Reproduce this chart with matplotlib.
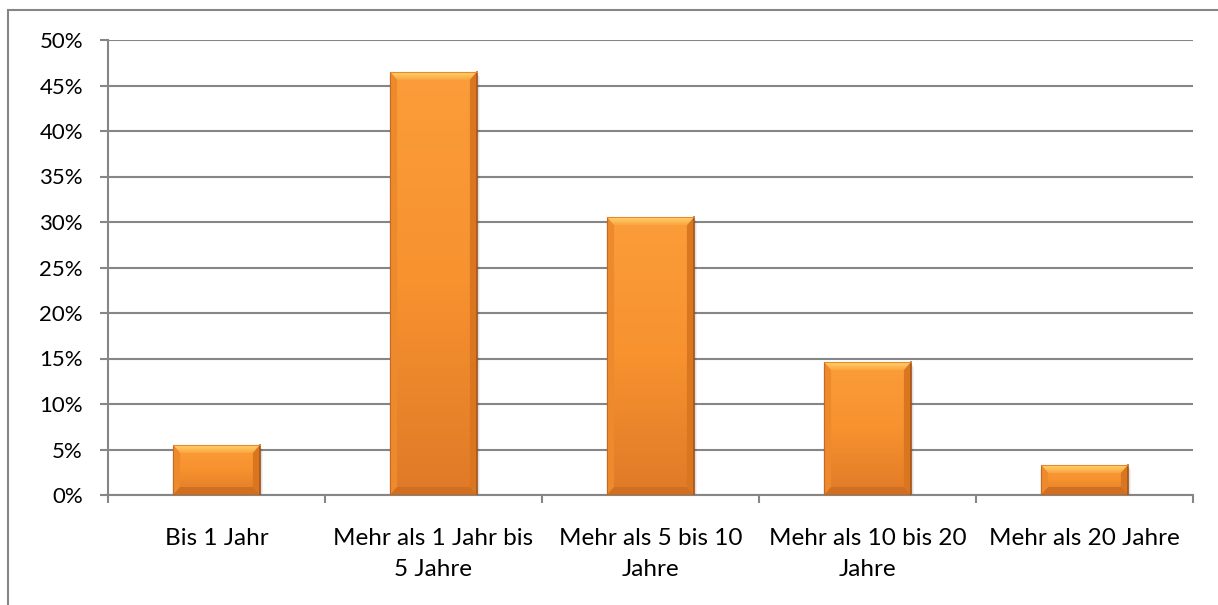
import matplotlib
matplotlib.use("Agg")
import matplotlib.pyplot as plt
import numpy as np
from matplotlib.ticker import PercentFormatter, FixedLocator
from matplotlib.patches import Polygon, Rectangle
from matplotlib.colors import LinearSegmentedColormap

categories = ["Bis 1 Jahr", "Mehr als 1 Jahr bis\n5 Jahre", "Mehr als 5 bis 10\nJahre",
              "Mehr als 10 bis 20\nJahre", "Mehr als 20 Jahre"]
values = [0.055, 0.465, 0.305, 0.146, 0.033]
yticks = [0, 0.05, 0.10, 0.15, 0.20, 0.25, 0.30, 0.35, 0.40, 0.45, 0.50]

plt.rcParams['font.family'] = ['Lato', 'DejaVu Sans']
W, H, DPI = 1218, 605, 100
fig = plt.figure(figsize=(W / DPI, H / DPI), dpi=DPI)
fig.patch.set_facecolor("white")

# outer chart border (left and top visible)
fig.add_artist(Rectangle((8 / W, -0.1), 1.2, (1 - 10 / H) + 0.1, transform=fig.transFigure,
                         fill=False, edgecolor="#868686", linewidth=1.5))

ax = fig.add_axes([108 / W, 1 - 495 / H, (1193 - 108) / W, (495 - 40) / H])
grid_col = "#868686"
x = np.arange(len(categories))
ax.set_xlim(-0.5, len(categories) - 0.5)
ax.set_ylim(0, 0.5)
ax.set_yticks(yticks)
ax.yaxis.set_major_formatter(PercentFormatter(1.0, decimals=0))
ax.yaxis.grid(True, color=grid_col, linewidth=1.5)
ax.set_axisbelow(True)
for s in ["top", "right"]:
    ax.spines[s].set_visible(False)
for s in ["left", "bottom"]:
    ax.spines[s].set_color(grid_col)
    ax.spines[s].set_linewidth(1.5)
ax.tick_params(axis="y", length=6, width=1.5, color=grid_col, pad=12, labelsize=16, labelcolor="black")
ax.xaxis.set_major_locator(FixedLocator(np.arange(-0.5, len(categories), 1.0)))
ax.xaxis.set_major_formatter(plt.NullFormatter())
ax.tick_params(axis="x", which="major", length=6, width=1.5, color=grid_col)
ax.set_xticks(x, minor=True)
ax.set_xticklabels(categories, minor=True, fontsize=17.5, linespacing=1.55)
ax.tick_params(axis="x", which="minor", length=0, pad=24, labelcolor="black")

bw_w = 0.4
bars = ax.bar(x, values, width=bw_w, color="#F79232", edgecolor="none", zorder=3)

cmap = LinearSegmentedColormap.from_list("o", ["#FB9D3A", "#F7922F", "#E07A28"])
top_cmap = LinearSegmentedColormap.from_list("t", ["#FFD36E", "#FBA640"])
# bevel size in data units
bx = 7 / 217.0
by = 8 / 910.0
for b, v in zip(bars, values):
    x0 = b.get_x(); x1 = x0 + b.get_width(); y0 = 0; y1 = v
    # soft shadow
    for k, a in [(4, 0.05), (2.5, 0.07), (1.2, 0.08)]:
        ax.add_patch(Rectangle((x0 - 0.002 * k / 2, y0 - 0.0012 * k), x1 - x0 + 0.004 * k, y1 - y0,
                               facecolor="#000000", alpha=a, edgecolor="none", zorder=2.5))
    grad = np.linspace(0, 1, 100).reshape(-1, 1)
    im = ax.imshow(grad, extent=(x0, x1, y0, y1), cmap=cmap, aspect="auto", zorder=3.1,
                   origin="upper")
    im.set_clip_path(b)
    top = Polygon([(x0, y1), (x1, y1), (x1 - bx, y1 - by), (x0 + bx, y1 - by)],
                  closed=True, facecolor="none", edgecolor="none", zorder=3.2)
    ax.add_patch(top)
    imt = ax.imshow(grad, extent=(x0, x1, y1 - by, y1), cmap=top_cmap, aspect="auto",
                    zorder=3.2, origin="upper")
    imt.set_clip_path(top)
    ax.add_patch(Polygon([(x0, y1), (x0 + bx, y1 - by), (x0 + bx, y0 + by), (x0, y0)],
                         closed=True, facecolor="#EE8A2E", edgecolor="none", zorder=3.2))
    ax.add_patch(Polygon([(x1, y1), (x1 - bx, y1 - by), (x1 - bx, y0 + by), (x1, y0)],
                         closed=True, facecolor="#D9761F", edgecolor="none", zorder=3.2))
    ax.add_patch(Polygon([(x0, y0), (x0 + bx, y0 + by), (x1 - bx, y0 + by), (x1, y0)],
                         closed=True, facecolor="#D06E22", edgecolor="none", zorder=3.2))
    ax.plot([x1, x1], [y0, y1], color="#A4541A", linewidth=1.2, zorder=3.3)
    ax.plot([x0, x0], [y0, y1], color="#C8691E", linewidth=0.8, zorder=3.3)
    ax.plot([x0, x1], [y1, y1], color="#E8892C", linewidth=0.8, zorder=3.3)
    ax.plot([x0, x1], [y0, y0], color="#A4541A", linewidth=1.0, zorder=3.3)

fig.savefig("out.png", dpi=DPI, facecolor="white")
